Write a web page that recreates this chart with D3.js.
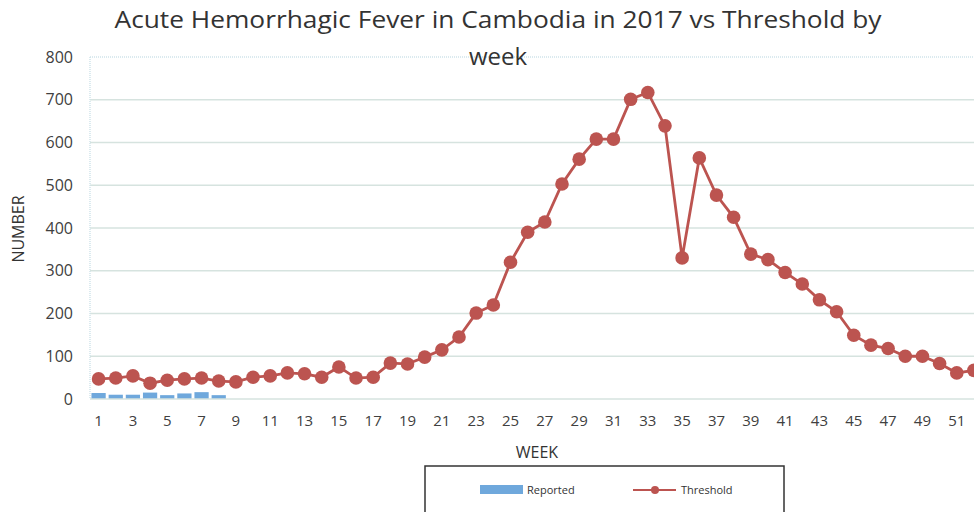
<!DOCTYPE html>
<html><head><meta charset="utf-8">
<script src="https://cdn.jsdelivr.net/npm/d3@7"></script>
<style>body{margin:0;background:#fff}svg{display:block}text{font-family:"Open Sans",sans-serif}</style>
</head><body>
<svg id="c" width="974" height="512"></svg>
<script>
const weeks = d3.range(1, 53);
const reported = [14, 10, 10, 15, 9, 13, 16, 9];
const threshold = [47, 49, 54, 37, 44, 47, 49, 42, 40, 51, 54, 61, 59, 51, 75, 49, 51, 84, 82, 98,
  115, 145, 201, 220, 320, 390, 414, 503, 561, 608, 608, 701, 717, 639, 330, 564, 477, 425, 339, 326,
  296, 269, 232, 204, 149, 126, 118, 100, 100, 83, 61, 67];
const yTicks = [0, 100, 200, 300, 400, 500, 600, 700, 800];
const xTickLabels = weeks.filter(w => w % 2 === 1);

const svg = d3.select("#c");
const x = d3.scaleBand().domain(weeks).range([90, 982.5]).paddingInner(0.17).paddingOuter(0.085);
const xc = d => x(d) + x.bandwidth() / 2;
const y = d3.scaleLinear().domain([0, 800]).range([399, 57]);

// gridlines
svg.append("g").selectAll("line").data(yTicks.filter(t => t > 0 && t < 800)).join("line")
  .attr("x1", 90).attr("x2", 990).attr("y1", d => y(d)).attr("y2", d => y(d))
  .attr("stroke", "#d6e3df").attr("stroke-width", 1.5);
// top dotted border & left dotted
svg.append("line").attr("x1", 90).attr("x2", 990).attr("y1", y(800)).attr("y2", y(800))
  .attr("stroke", "#d0e4ea").attr("stroke-width", 1.5).attr("stroke-dasharray", "1,1");
svg.append("line").attr("x1", 90).attr("x2", 90).attr("y1", y(800)).attr("y2", y(0))
  .attr("stroke", "#d0e4ea").attr("stroke-width", 1.5).attr("stroke-dasharray", "1,1");

// y axis labels
const yAxis = d3.axisLeft(y).tickValues(yTicks).tickSize(0).tickPadding(0);
const gy = svg.append("g").attr("transform", "translate(73,0)").call(yAxis);
gy.select(".domain").remove();
gy.selectAll("text").attr("font-size", 16).attr("fill", "#404040").attr("font-family", "Open Sans");

// bars
svg.append("g").selectAll("rect").data(reported).join("rect")
  .attr("x", (d, i) => x(weeks[i])).attr("width", x.bandwidth())
  .attr("y", d => y(d)).attr("height", d => y(0) - y(d)).attr("fill", "#6fa8dc");

// baseline
svg.append("line").attr("x1", 90).attr("x2", 990).attr("y1", y(0)).attr("y2", y(0))
  .attr("stroke", "#d6e3df").attr("stroke-width", 1.5);

// x axis
const xAxis = d3.axisBottom(x).tickValues(xTickLabels).tickSize(0).tickPadding(0);
const gx = svg.append("g").attr("transform", "translate(0,415)").call(xAxis);
gx.select(".domain").remove();
gx.selectAll("text").attr("font-size", 15).attr("fill", "#404040").attr("font-family", "Open Sans");

// line
const line = d3.line().x((d, i) => xc(weeks[i])).y(d => y(d));
svg.append("path").datum(threshold).attr("d", line).attr("fill", "none")
  .attr("stroke", "#bc5450").attr("stroke-width", 2.8);
svg.append("g").selectAll("circle").data(threshold).join("circle")
  .attr("cx", (d, i) => xc(weeks[i])).attr("cy", d => y(d)).attr("r", 6.8).attr("fill", "#bc5450");

// title
svg.append("text").attr("x", 498).attr("y", 28).attr("text-anchor", "middle")
  .attr("font-size", 24).attr("fill", "#333").attr("textLength", 767).attr("lengthAdjust", "spacingAndGlyphs")
  .text("Acute Hemorrhagic Fever in Cambodia in 2017 vs Threshold by");
svg.append("text").attr("x", 498).attr("y", 65).attr("text-anchor", "middle")
  .attr("font-size", 24).attr("fill", "#333").text("week");

// axis titles
svg.append("text").attr("transform", "translate(24,229) rotate(-90)").attr("text-anchor", "middle")
  .attr("font-size", 16).attr("fill", "#333").text("NUMBER");
svg.append("text").attr("x", 537).attr("y", 458).attr("text-anchor", "middle")
  .attr("font-size", 16).attr("fill", "#333").text("WEEK");

// legend
svg.append("rect").attr("x", 425).attr("y", 466).attr("width", 359).attr("height", 60)
  .attr("fill", "#fff").attr("stroke", "#333").attr("stroke-width", 1.5);
svg.append("rect").attr("x", 480).attr("y", 485).attr("width", 43).attr("height", 9).attr("fill", "#6fa8dc");
svg.append("text").attr("x", 527).attr("y", 494).attr("font-size", 11).attr("fill", "#333").text("Reported");
svg.append("line").attr("x1", 633).attr("x2", 676).attr("y1", 490).attr("y2", 490)
  .attr("stroke", "#bc5450").attr("stroke-width", 2);
svg.append("circle").attr("cx", 655).attr("cy", 490).attr("r", 4).attr("fill", "#bc5450");
svg.append("text").attr("x", 681).attr("y", 494).attr("font-size", 11).attr("fill", "#333").text("Threshold");
</script>
</body></html>
